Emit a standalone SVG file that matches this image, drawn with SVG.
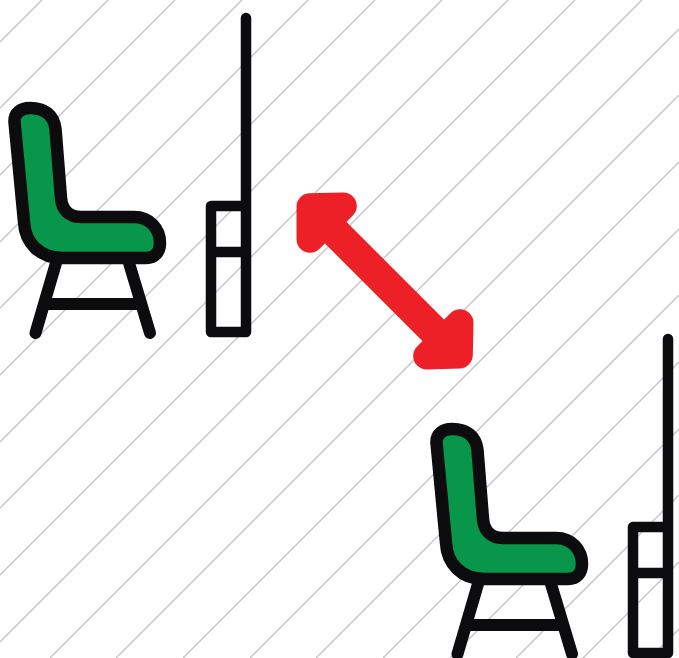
<svg xmlns="http://www.w3.org/2000/svg" width="679" height="658" viewBox="0 0 679 658">
<style>
.bk{fill:none;stroke:#0c0b0e;stroke-width:10.5;stroke-linecap:round;stroke-linejoin:round}
.leg{fill:none;stroke:#0c0b0e;stroke-width:12;stroke-linecap:round;stroke-linejoin:round}
.seat{fill:#07964a;stroke:#0c0b0e;stroke-width:12.5;stroke-linejoin:round}
.hatch{fill:none;stroke:#c4c4c4;stroke-width:1.4}
.head{fill:#ed1f27;stroke:#ed1f27;stroke-width:27;stroke-linecap:round;stroke-linejoin:round}
.shaft{fill:none;stroke:#ed1f27;stroke-width:30.5}
</style>
<defs>
<g id="chair-rig">
<path class="leg" d="M56 263L35.500 333M129 263L150 333M46 304H140"/>
<path class="seat" d="M14.500 122C14 113 21 108 30 108C45 108 54 115 55.500 129L61 198C62 210 69 217 81 217H134C150 217 160 229 160 243C160 252 155 258 146 258H62C40 258 25 243 24 222Z"/>
<path class="bk" d="M246 18V206M211 206H246V332H211ZM211 252H246"/>
</g>
</defs>
<rect width="679" height="658" fill="#fff"/>
<g id="hatching"><path class="hatch" d="M0 42L42 0M0 108L108 0M0 175L175 0M0 242L242 0M0 308L308 0M0 375L375 0M0 442L442 0M0 508L508 0M0 575L575 0M0 642L642 0M50 658L679 29M116 658L679 95M183 658L679 162M250 658L679 229M316 658L679 295M383 658L679 362M450 658L679 429M516 658L679 495M583 658L679 562M650 658L679 629"/></g>
<g id="chair-1"><use href="#chair-rig"/></g>
<g id="chair-2"><use href="#chair-rig" x="422" y="321"/></g>
<g id="connectors">
<path class="shaft" d="M325 222L445 342"/>
<path class="head" d="M343.300 206L310 206.700L310 239.300Z"/>
<path class="head" d="M460 322.700L459.300 355L426.700 356Z"/>
</g>
</svg>
